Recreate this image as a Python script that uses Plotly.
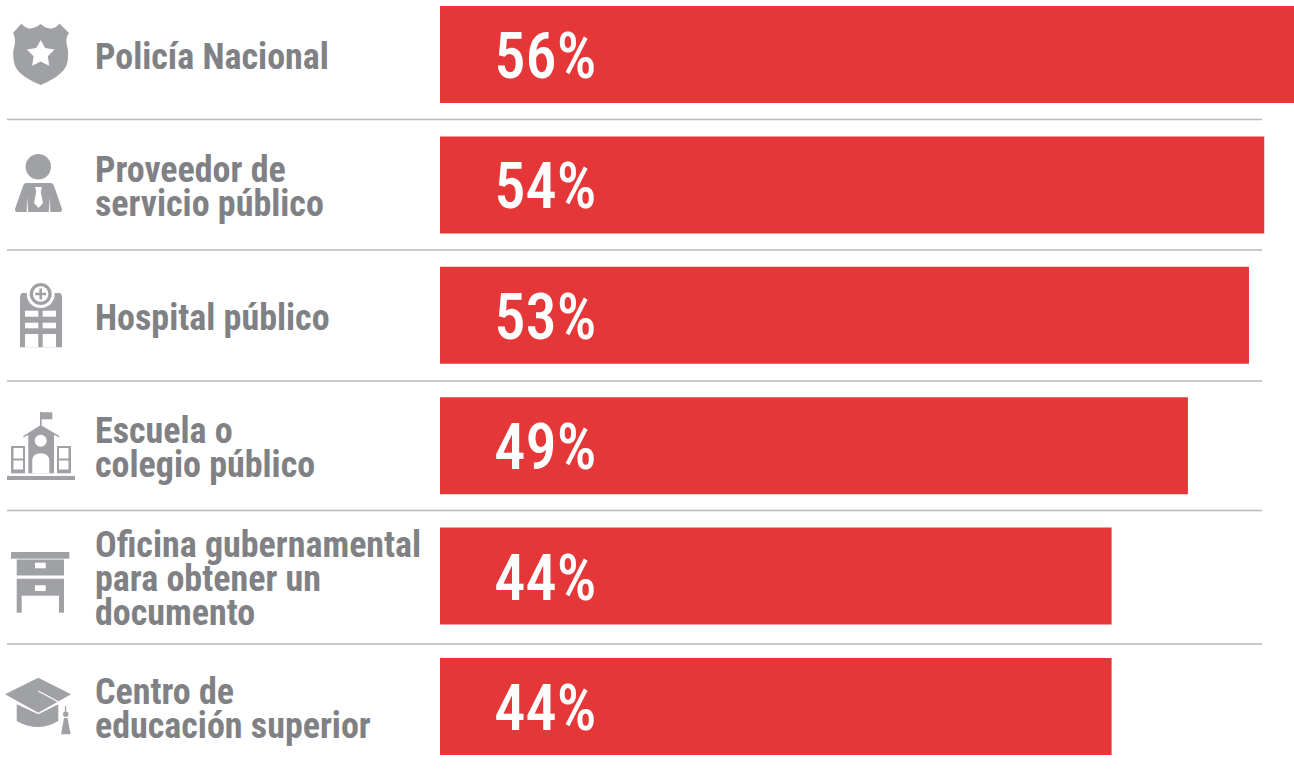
import base64
import plotly.graph_objects as go

categories = ["Policía Nacional", "Proveedor de servicio público", "Hospital público",
              "Escuela o colegio público", "Oficina gubernamental para obtener un documento",
              "Centro de educación superior"]
label_lines = [["Policía Nacional"], ["Proveedor de", "servicio público"], ["Hospital público"],
               ["Escuela o", "colegio público"], ["Oficina gubernamental", "para obtener un", "documento"],
               ["Centro de", "educación superior"]]
values = [56, 54, 53, 49, 44, 44]

W, H = 1294, 776
BAR = "#e53738"; TXT = "#808185"; ICON = "#a0a1a5"; SEP = "#b9b9b9"
sep_y = [119.5, 250, 381, 510.5, 644]
centers = [54.5, 184.5, 315.5, 445.5, 576.5, 706.5]
line_y = [[57], [169.5, 204.5], [317.5], [430.5, 464.5], [544.5, 578.5, 612.5], [691.5, 725.5]]
pitch = 130.4

icons = f'''
<g fill="{ICON}">
<path d="M13,33 L21.5,23.5 Q26,29 31,28.5 Q36,28 40.7,24 Q45,28 50,28.5 Q55,29 59.5,23.5 L69,33 Q65,38 67,46 Q69,52 67.5,62 Q66,70 56,77 Q48,82 40.7,85 Q33,82 25,77 Q15,70 14,62 Q12,52 14.5,46 Q16,38 13,33 Z"/>
<circle cx="38.3" cy="166.7" r="12.7"/>
<path d="M26,183 L51,183 Q53,183 54,186 L62,209 Q62,212 60,212 L17,212 Q15,212 15,209 L23,186 Q24,183 26,183 Z"/>
<path d="M22,293 L26,293 L60,293 Q62,294 62,297 L62,347.3 L20,347.3 L20,297 Q20,294 22,293 Z"/>
<rect x="7" y="476" width="68" height="4"/>
<rect x="40" y="412" width="1.6" height="15"/><rect x="40.7" y="412.3" width="11.6" height="7"/>
<path d="M23.3,436 L40.7,425 L59.3,436 L59.3,437.5 L54,435 L54,473.3 L28.3,473.3 L28.3,435 L23.3,437.5 Z"/>
<rect x="11" y="446" width="14" height="27.3"/><rect x="57" y="446" width="14" height="27.3"/>
<rect x="11" y="552" width="58.3" height="6.7"/>
<rect x="16.7" y="559.5" width="47.3" height="16"/><rect x="16.7" y="578.7" width="47.3" height="17"/>
<rect x="16.7" y="595" width="5" height="17.7"/><rect x="59" y="595" width="5" height="17.7"/>
<path d="M5,694.3 L38.3,677.7 L71,694.3 L38.3,712.7 Z"/>
<path d="M16.7,704.3 L16.7,721 Q38,733 58.3,721 L58.3,704.3 L38.3,714.3 Z"/>
<rect x="64.9" y="706" width="1.3" height="7"/><circle cx="65.7" cy="714.3" r="2.7"/>
<path d="M61,734.3 L70.7,734.3 L67.5,718 L64,718 Z"/>
</g>
<g fill="#fff">
<path d="M40.7,40 L45.1,47.9 L54.5,49.5 L47.8,56.3 L49.2,65.7 L40.7,61.5 L32.2,65.7 L33.6,56.3 L26.9,49.5 L36.3,47.9 Z"/>
<path d="M35,187 L42,187 L40.8,192 L43,203 L38.5,208 L34,203 L36.2,192 Z"/>
<path d="M27,197 L28.3,212 L26.7,212 Z"/><path d="M50,197 L48.7,212 L50.3,212 Z"/>
<circle cx="40.7" cy="294" r="14"/>
<rect x="25" y="310.7" width="13.3" height="6"/><rect x="42.7" y="310.7" width="13.3" height="6"/>
<rect x="25" y="322.7" width="13.3" height="5.6"/><rect x="42.7" y="322.7" width="13.3" height="5.6"/>
<rect x="25" y="334" width="13.3" height="13.3"/><rect x="42.7" y="334" width="13.3" height="13.3"/>
<circle cx="40.7" cy="440.7" r="6"/>
<path d="M32.3,473.3 L32.3,461 Q32.3,453.3 40.7,453.3 Q49.3,453.3 49.3,461 L49.3,473.3 Z"/>
<rect x="13.5" y="448" width="9.5" height="10.5"/><rect x="13.5" y="460.5" width="9.5" height="9"/>
<rect x="59" y="448" width="9.5" height="10.5"/><rect x="59" y="460.5" width="9.5" height="9"/>
<rect x="35" y="562.7" width="10.7" height="5.6"/><rect x="35" y="585.3" width="10.7" height="5.7"/>
</g>
<circle cx="40.7" cy="294" r="11" fill="{ICON}"/><circle cx="40.7" cy="294" r="7.7" fill="#fff"/>
<path d="M39.4,288.5 h2.6 v4.2 h4.2 v2.6 h-4.2 v4.2 h-2.6 v-4.2 h-4.2 v-2.6 h4.2 Z" fill="{ICON}"/>
<path d="M38.3,691 L65,705.5" stroke="#fff" stroke-width="1.3" fill="none"/>
'''
svg = f'<svg xmlns="http://www.w3.org/2000/svg" width="{W}" height="{H}" viewBox="0 0 {W} {H}">{icons}</svg>'
uri = "data:image/svg+xml;base64," + base64.b64encode(svg.encode()).decode()

fig = go.Figure(go.Bar(x=values, y=categories, orientation="h", marker=dict(color=BAR, line_width=0),
                       width=97 / pitch, hoverinfo="skip"))

anns = []
for cat, v in zip(categories, values):
    anns.append(dict(x=0, y=cat, xref="x", yref="y", xshift=51, yshift=-2, xanchor="left", yanchor="middle",
                     text=f"{v}%", showarrow=False,
                     font=dict(family="Roboto Condensed", size=64, weight=500, color="#ffffff")))
for ys, lines in zip(line_y, label_lines):
    for y, ln in zip(ys, lines):
        anns.append(dict(x=93 / W, y=1 - y / H, xref="paper", yref="paper",
                         xanchor="left", yanchor="middle", align="left", text=ln, showarrow=False,
                         font=dict(family="Roboto Condensed, Roboto", size=36, weight=700, color=TXT)))

shapes = [dict(type="line", xref="paper", yref="paper", x0=7 / W, x1=1262 / W, y0=1 - s / H, y1=1 - s / H,
               line=dict(color=SEP, width=1.3)) for s in sep_y]

fig.update_layout(
    width=W, height=H, margin=dict(l=0, r=0, t=0, b=0), showlegend=False,
    paper_bgcolor="#ffffff", plot_bgcolor="#ffffff",
    xaxis=dict(domain=[440 / W, 1], range=[0, 55.95], visible=False),
    yaxis=dict(range=[(H - centers[0]) / pitch, -centers[0] / pitch], visible=False, categoryorder="array",
               categoryarray=categories),
    annotations=anns, shapes=shapes,
    images=[dict(source=uri, xref="paper", yref="paper", x=0, y=1, sizex=1, sizey=1,
                 xanchor="left", yanchor="top", sizing="stretch", layer="above")],
)
narrow = """
document.body.style.margin='0';
function narrowPct(){
  document.querySelectorAll('.annotation-text').forEach(function(t){
    if(t.textContent.endsWith('%')){
      t.setAttribute('textLength','102');
      t.setAttribute('lengthAdjust','spacingAndGlyphs');
    }
  });
}
narrowPct();
var gd=document.querySelector('.plotly-graph-div');
if(gd&&gd.on){gd.on('plotly_afterplot',narrowPct);}
setTimeout(narrowPct,50);setTimeout(narrowPct,300);
"""
fig.write_html("out.html", config={"displayModeBar": False}, post_script=narrow)
